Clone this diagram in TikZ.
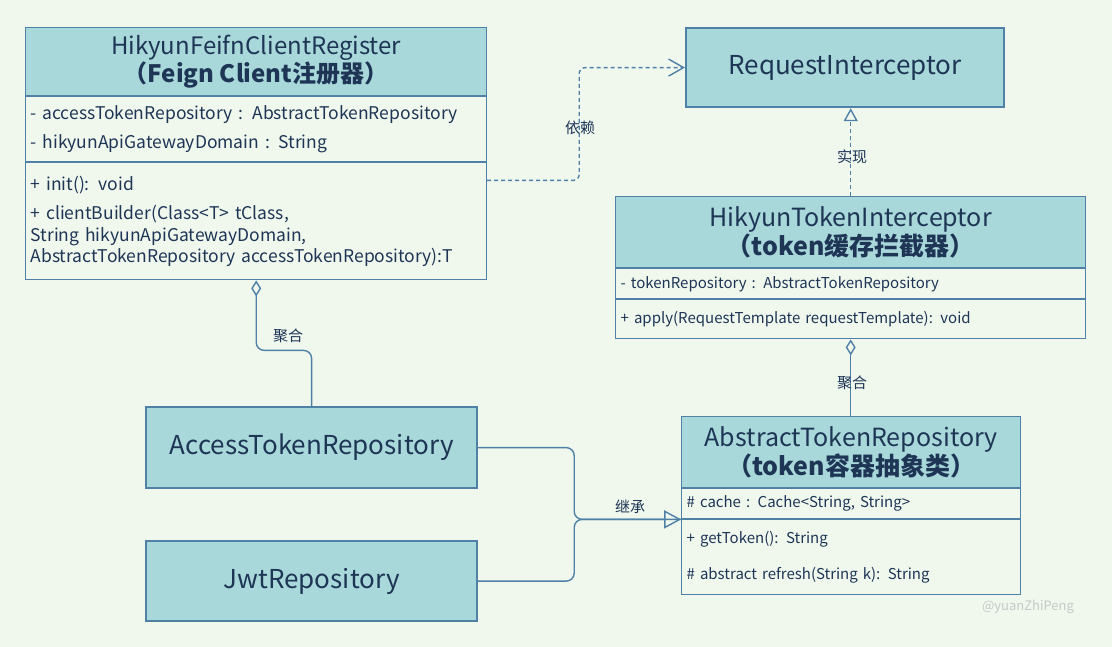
\documentclass[tikz,border=0pt]{standalone}
\usepackage{fontspec}
\setmainfont{Noto Sans CJK SC}
\usetikzlibrary{arrows.meta,positioning}
\definecolor{umlbg}{HTML}{F0F8EE}
\definecolor{umlfill}{HTML}{A8D8DA}
\definecolor{umlline}{HTML}{4F80A6}
\definecolor{umltext}{HTML}{1E3556}
\definecolor{umlmark}{HTML}{C4CAC8}

\begin{document}
\begin{tikzpicture}[x=1pt,y=-1pt,
  hdr/.style={draw=umlline,fill=umlfill,line width=1.4pt,text=umltext,align=center,anchor=north west,inner sep=0pt},
  cmp/.style={draw=umlline,fill=umlbg,line width=1pt,text=umltext,align=left,inner xsep=5pt,inner ysep=0pt},
  solo/.style={draw=umlline,fill=umlfill,line width=2.2pt,text=umltext,anchor=north west,inner sep=0pt},
  dep/.style={umlline,line width=1.4pt,dash pattern=on 4pt off 3pt,rounded corners=6pt},
  agg/.style={umlline,line width=1.4pt,rounded corners=8pt},
  lbl/.style={text=umltext,font=\fontsize{15}{18}\selectfont}]
  \fill[umlbg] (0,0) rectangle (1112,647);
  \useasboundingbox (0,0) rectangle (1112,647);
  \node[hdr,minimum width=461pt,minimum height=68pt,font=\fontsize{24}{26}\selectfont] (aHead) at (25,27)
    {HikyunFeifnClientRegister\\\bfseries （Feign Client注册器）};
  \node[cmp,below=0pt of aHead,text width=451pt,minimum height=65pt,font=\fontsize{17.5}{29}\selectfont] (aAttr)
    {- accessTokenRepository : AbstractTokenRepository\\- hikyunApiGatewayDomain : String};
  \node[cmp,below=0pt of aAttr,text width=451pt,minimum height=117pt,font=\fontsize{17.5}{21.5}\selectfont] (aMeth)
    {+ init(): void\\[8pt]+ clientBuilder(Class<T> tClass,\\String hikyunApiGatewayDomain,\\AbstractTokenRepository accessTokenRepository):T};
  \node[solo,minimum width=318pt,minimum height=79pt,font=\fontsize{26}{30}\selectfont] (bReq) at (685,27) {RequestInterceptor};
  \node[hdr,minimum width=470pt,minimum height=71pt,font=\fontsize{25}{27}\selectfont] (cHead) at (615,196)
    {HikyunTokenInterceptor\\\bfseries （token缓存拦截器）};
  \node[cmp,below=0pt of cHead,text width=460pt,minimum height=30pt,font=\fontsize{15}{17}\selectfont] (cAttr)
    {- tokenRepository : AbstractTokenRepository};
  \node[cmp,below=0pt of cAttr,text width=460pt,minimum height=39pt,font=\fontsize{15}{17}\selectfont] (cMeth)
    {+ apply(RequestTemplate requestTemplate): void};
  \node[solo,minimum width=331pt,minimum height=81pt,font=\fontsize{26}{30}\selectfont] (dAcc) at (145,406) {AccessTokenRepository};
  \node[solo,minimum width=331pt,minimum height=80pt,font=\fontsize{26}{30}\selectfont] (eJwt) at (145,540) {JwtRepository};
  \node[hdr,minimum width=339pt,minimum height=71pt,font=\fontsize{25}{27}\selectfont] (fHead) at (681,416)
    {AbstractTokenRepository\\\bfseries （token容器抽象类）};
  \node[cmp,below=0pt of fHead,text width=329pt,minimum height=30pt,font=\fontsize{15}{17}\selectfont] (fAttr)
    {\# cache : Cache<String, String>};
  \node[cmp,below=0pt of fAttr,text width=329pt,minimum height=75pt,font=\fontsize{15}{17}\selectfont] (fMeth)
    {+ getToken(): String\\[19pt]\# abstract refresh(String k): String};
  \draw[dep,-{Straight Barb[length=15pt,width=17pt]}] ([yshift=-18pt]aMeth.north east) -- ++(92,0) |- (bReq.west);
  \node[lbl] (depLbl) at (580,128) {依赖};
  \draw[dep,-{Triangle[open,length=13pt,width=14pt]}] (cHead.north) -- (cHead.north |- bReq.south);
  \node[lbl] (realLbl) at (852,157) {实现};
  \draw[agg,{Diamond[open,length=16pt,width=10pt]}-] (aMeth.south) -- ++(0,70) -| (dAcc.north);
  \node[lbl] (aggLblA) at (288,336) {聚合};
  \draw[agg,{Diamond[open,length=16pt,width=10pt]}-] (cMeth.south) -- (cMeth.south |- fHead.north);
  \node[lbl] (aggLblF) at (852,383) {聚合};
  \draw[agg] (eJwt.east) -- ++(96,0) |- (fAttr.south west);
  \draw[agg,-{Triangle[open,length=17pt,width=18pt]}] (dAcc.east) -- ++(96,0) |- (fAttr.south west);
  \node[lbl] (inhLbl) at (630,507) {继承};
  \node[text=umlmark,font=\fontsize{13}{15}\selectfont] (mark) at (1028,607) {@yuanZhiPeng};
\end{tikzpicture}
\end{document}
